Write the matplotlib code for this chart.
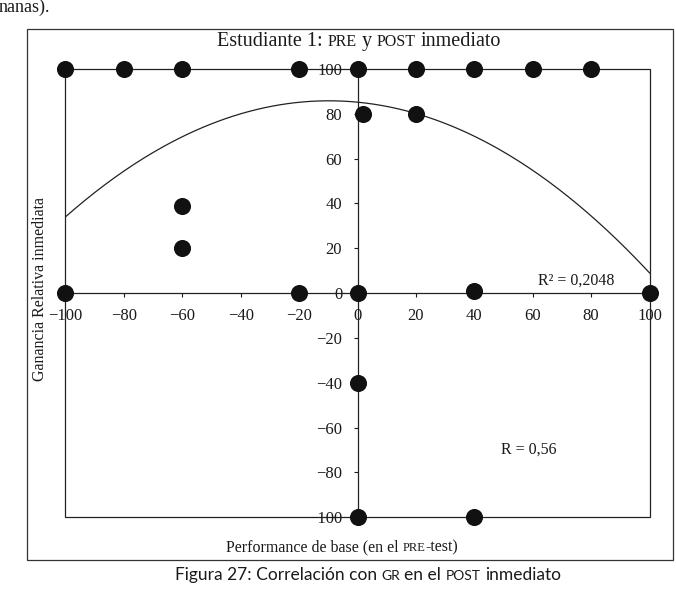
import matplotlib
matplotlib.use('Agg')
import matplotlib.pyplot as plt
import numpy as np
from matplotlib.patches import Rectangle

# ---- data ----
performance_base = [-100, -80, -60, -20, 0, 20, 40, 60, 80,
                    2, 20, -60, -60, -100, -20, 0, 40, 100, 0, 0, 40]
ganancia_relativa = [100, 100, 100, 100, 100, 100, 100, 100, 100,
                     80, 80, 39, 20, 0, 0, 0, 1, 0, -40, -100, -100]
trend_coefs = [-0.00637, -0.125, 85.2]   # polynomial trendline (a, b, c)
tick_values = [-100, -80, -60, -40, -20, 0, 20, 40, 60, 80, 100]
r2_text = "R² = 0,2048"
r_text = "R = 0,56"

W, H = 676, 592
SERIF = ['Liberation Serif', 'DejaVu Serif']
SANS = ['Lato', 'Open Sans', 'DejaVu Sans']
INK = '#1a1a1a'

fig = plt.figure(figsize=(W / 100, H / 100), dpi=100)
fig.patch.set_facecolor('white')
renderer = fig.canvas.get_renderer()


def text_width(s, fs, fam):
    t = fig.text(0, 0, s, fontsize=fs, family=fam)
    w = t.get_window_extent(renderer).width
    t.remove()
    return w


def mixed(cx, y, pieces, fam):
    sp = {}
    layout = []
    total = 0.0
    for s, fs in pieces:
        core = s.strip()
        lead = len(s) - len(s.lstrip())
        trail = len(s) - len(s.rstrip())
        if fs not in sp:
            sp[fs] = text_width('a a', fs, fam) - text_width('aa', fs, fam)
        wcore = text_width(core, fs, fam)
        layout.append((core, fs, total + lead * sp[fs]))
        total += lead * sp[fs] + wcore + trail * sp[fs]
    x0 = cx - total / 2
    for core, fs, off in layout:
        fig.text((x0 + off) / W, 1 - y / H, core, fontsize=fs, family=fam,
                 va='baseline', ha='left', color=INK)


# outer frame
fig.add_artist(Rectangle((27 / W, 1 - 560 / H), (673 - 27) / W, (560 - 29) / H,
                         transform=fig.transFigure, fill=False, lw=0.9, ec='#333'))

# plot area
left, right, top, bottom = 65.4, 649.6, 69.0, 517.3
ax = fig.add_axes([left / W, 1 - bottom / H, (right - left) / W, (bottom - top) / H])
ax.set_xlim(-100, 100)
ax.set_ylim(-100, 100)
ax.set_facecolor('none')
for s in ['top', 'right']:
    ax.spines[s].set_visible(False)
ax.spines['left'].set_position(('data', 0))
ax.spines['bottom'].set_position(('data', 0))
for s in ['left', 'bottom']:
    ax.spines[s].set_linewidth(0.9)
    ax.spines[s].set_color('#222')
ax.add_patch(Rectangle((0, 0), 1, 1, transform=ax.transAxes, fill=False,
                       lw=0.9, ec='#222', clip_on=False))
ax.set_xticks(tick_values)
ax.set_yticks(tick_values)
ax.set_xticklabels([str(v).replace('-', '\u2212') for v in tick_values])
ax.set_yticklabels([str(v).replace('-', '\u2212') for v in tick_values])
ax.tick_params(direction='out', length=3, width=0.8, pad=8, labelsize=12,
               colors=INK)
for lab in ax.get_xticklabels() + ax.get_yticklabels():
    lab.set_family(SERIF)

xs = np.linspace(-100, 100, 300)
ax.plot(xs, np.polyval(trend_coefs, xs), color='#222', lw=0.9, zorder=3)
ax.scatter(performance_base, ganancia_relativa, s=12.3 ** 2, color='#111',
           zorder=5, clip_on=False, linewidths=0)

ax.text(75, 5.8, r2_text, ha='center', va='center', fontsize=11.5, family=SERIF, color=INK)
ax.text(58.5, -70, r_text, ha='center', va='center', fontsize=11.5, family=SERIF, color=INK)

# titles and labels
mixed(359, 46, [("Estudiante 1: ", 14.5), ("PRE", 11.5), (" y ", 14.5),
                ("POST", 11.5), (" inmediato", 14.5)], SERIF)
mixed(342, 551, [("Performance de base (en el ", 11.5), ("PRE", 9),
                 ("-test)", 11.5)], SERIF)
fig.text(40 / W, 1 - 289 / H, 'Ganancia Relativa inmediata', rotation=90,
         va='center', ha='center', fontsize=11.5, family=SERIF, color=INK)
mixed(368, 580, [("Figura 27: Correlación con ", 12.5), ("GR", 10), (" en el ", 12.5),
                 ("POST", 10), (" inmediato", 12.5)], SANS)
fig.text(-1 / W, 1 - 12 / H, 'nanas).', fontsize=13, family=SERIF,
         va='baseline', ha='left', color=INK)

fig.savefig('out.png', dpi=100, facecolor='white')
